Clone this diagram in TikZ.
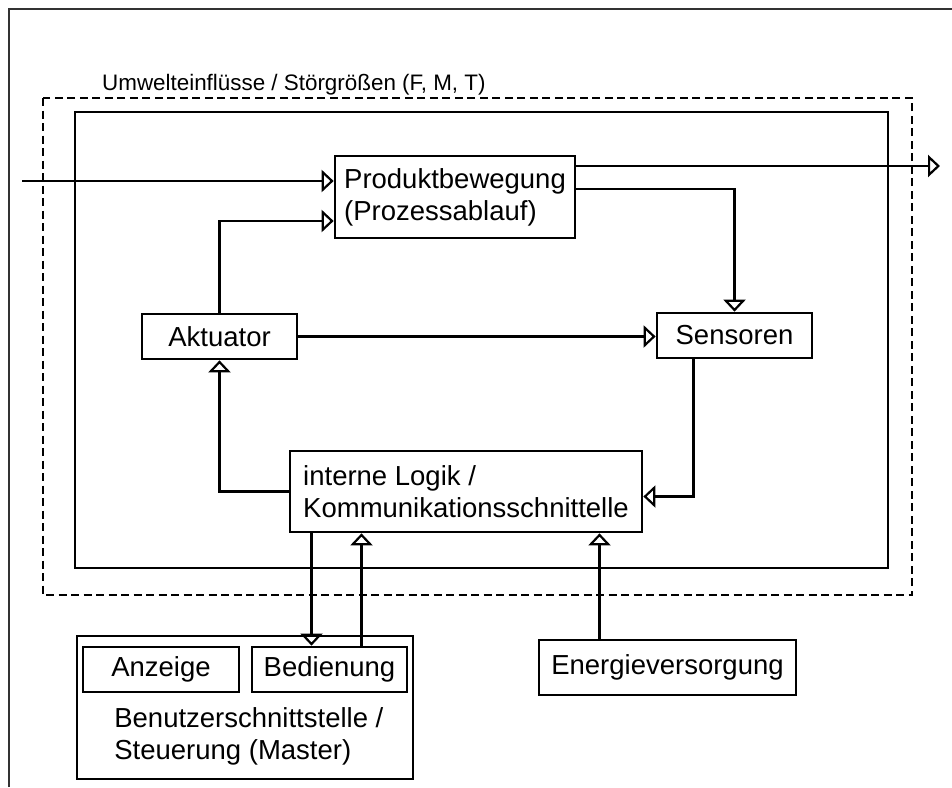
\documentclass[tikz,border=0pt]{standalone}
\usepackage{fontspec}
\setmainfont{Liberation Sans}
\usetikzlibrary{arrows.meta, calc, positioning}

\begin{document}
\begin{tikzpicture}[x=1pt, y=-1pt,
    blk/.style={draw, line width=2.7pt, inner sep=0pt, align=left,
      font=\fontsize{27.5}{32}\selectfont},
    conn/.style={line width=2.2pt, -{Triangle[open, length=12pt, width=22pt]}}]
    \useasboundingbox (0,0) rectangle (952,787);
    % Rahmen und Systemgrenzen
    \draw[black!80, line width=1.2pt] (9,787) -- (9,9) -- (952,9);
    \draw[line width=2.8pt, dash pattern=on 8pt off 4.5pt] (43,98) rectangle (912,595);
    \draw[line width=2.5pt] (75,112) rectangle (888,568);
    \node[anchor=base west, inner sep=0pt, font=\fontsize{22.4}{26}\selectfont] (stoer) at (102,90)
        {Umwelteinflüsse / Störgrößen (F, M, T)};
    % Bloecke
    \node[blk, minimum width=240pt, minimum height=82pt] (prod) at (455,197) {Produktbewegung\\(Prozessablauf)};
    \node[blk, minimum width=155pt, minimum height=45pt] (akt) at (219.5,336.5) {Aktuator};
    \node[blk, minimum width=155pt, minimum height=45pt] (sens) at (734.5,335.5) {Sensoren};
    \node[blk, minimum width=352pt, minimum height=81pt] (logik) at (466,491.5) {interne Logik /\\Kommunikationsschnittelle};
    \node[blk, minimum width=257pt, minimum height=55pt] (energie) at (667.5,667.5) {Energieversorgung};
    \node[blk, minimum width=336pt, minimum height=143pt] (user) at (245,707.5) {};
    \node[blk, minimum width=156pt, minimum height=45pt] (anz) at (161,669.5) {Anzeige};
    \node[blk, minimum width=155pt, minimum height=45pt] (bed) at (329.5,669.5) {Bedienung};
    \node[blk, draw=none, anchor=west] (userlbl) at (113,736) {Benutzerschnittstelle /\\Steuerung (Master)};
    % Hilfspunkte
    \coordinate (ein) at (22,181);
    \coordinate (aus) at (940,166);
    \path (sens.south) ++(-41,0) coordinate (sdn);
    \path (bed.north) ++(-18,0) coordinate (bdn) ++(50,0) coordinate (bup);
    \path (energie.north) ++(-68,0) coordinate (eup);
    % Verbindungen
    \draw[conn] (ein) -- (ein -| prod.west);
    \draw[conn] (akt.north) |- ([yshift=-24pt]prod.west);
    \draw[conn] (prod.east |- aus) -- (aus);
    \draw[conn] ([yshift=8pt]prod.east) -| (sens.north);
    \draw[conn] (akt.east) -- (akt.east -| sens.west);
    \draw[conn] (logik.west) -| (akt.south);
    \draw[conn] (sdn) |- ([yshift=-5pt]logik.east);
    \draw[conn] (logik.south -| bdn) -- (bdn);
    \draw[conn] (bup) -- (logik.south -| bup);
    \draw[conn] (eup) -- (logik.south -| eup);
\end{tikzpicture}
\end{document}
